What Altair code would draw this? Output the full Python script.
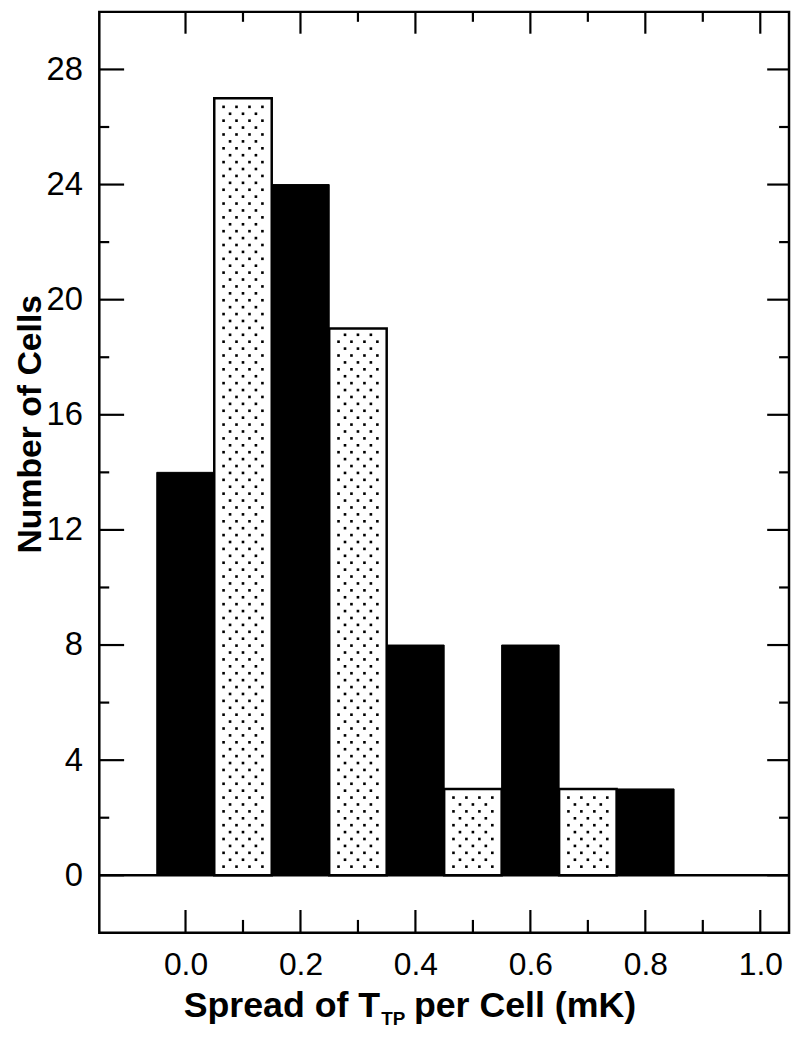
import altair as alt
import pandas as pd

# ---- data ----
centers = [0.0, 0.1, 0.2, 0.3, 0.4, 0.5, 0.6, 0.7, 0.8]
counts = [14, 27, 24, 19, 8, 3, 8, 3, 3]
styles = ["solid", "dotted", "solid", "dotted", "solid", "dotted", "solid", "dotted", "solid"]
bin_width = 0.1

x_major = [0.0, 0.2, 0.4, 0.6, 0.8, 1.0]
x_minor = [0.1, 0.3, 0.5, 0.7, 0.9]
y_major = [0, 4, 8, 12, 16, 20, 24, 28]
y_minor = [2, 6, 10, 14, 18, 22, 26]

W, H = 695, 928
FONT = "Liberation Sans"

bars = pd.DataFrame({
    "start": [c - bin_width / 2 for c in centers],
    "end": [c + bin_width / 2 for c in centers],
    "count": counts,
    "style": styles,
})

# dot texture inside the dotted bars (derived from the bars above)
dot_rows = []
for c, n, s in zip(centers, counts, styles):
    if s != "dotted":
        continue
    k = 0
    yv = 0.3
    while yv < n - 0.15:
        offs = [-0.0338, -0.0113, 0.0113, 0.0338] if k % 2 == 0 else [-0.0225, 0.0, 0.0225]
        for o in offs:
            dot_rows.append({"x": c + o, "y": yv})
        k += 1
        yv = 0.3 + 0.24 * k
dots = pd.DataFrame(dot_rows)

xs = alt.Scale(domain=[-0.15, 1.05], nice=False, zero=False)
ys = alt.Scale(domain=[-2, 30], nice=False, zero=False)

solid = alt.Chart(bars).transform_filter(alt.datum.style == "solid").mark_rect(
    fill="black", stroke="black", strokeWidth=1
).encode(
    x=alt.X("start:Q", scale=xs, axis=alt.Axis(
        values=x_major, format=".1f", ticks=False, tickSize=0, domain=False, grid=False,
        labelFont=FONT, labelFontSize=32, labelColor="black", labelPadding=17,
        labelFlush=False, title=None)),
    x2="end:Q",
    y=alt.Y("count:Q", scale=ys, axis=alt.Axis(
        values=y_major, ticks=False, tickSize=0, domain=False, grid=False,
        labelFont=FONT, labelFontSize=33, labelColor="black", labelPadding=17,
        title="Number of Cells", titleFont=FONT, titleFontSize=34, titleFontWeight="bold",
        titleColor="black", titleAngle=270, titleX=-69, titleY=415,
        titleAlign="center", titleBaseline="middle")),
    y2=alt.datum(0),
)

dotted = alt.Chart(bars).transform_filter(alt.datum.style == "dotted").mark_rect(
    fill="white", stroke="black", strokeWidth=2.5
).encode(
    x=alt.X("start:Q", scale=xs),
    x2="end:Q",
    y=alt.Y("count:Q", scale=ys),
    y2=alt.datum(0),
)

dot_layer = alt.Chart(dots).mark_square(size=7, color="black", opacity=1).encode(
    x=alt.X("x:Q", scale=xs),
    y=alt.Y("y:Q", scale=ys),
)

zero_line = alt.Chart(pd.DataFrame({"z": [0]})).mark_rule(
    color="black", strokeWidth=2.5
).encode(y=alt.Y("z:Q", scale=ys))


def xticks(vals, y0, y1):
    return alt.Chart(pd.DataFrame({"v": vals})).mark_rule(color="black", strokeWidth=2.2).encode(
        x=alt.X("v:Q", scale=xs), y=alt.value(y0), y2=alt.value(y1))


def yticks(vals, x0, x1):
    return alt.Chart(pd.DataFrame({"v": vals})).mark_rule(color="black", strokeWidth=2.2).encode(
        y=alt.Y("v:Q", scale=ys), x=alt.value(x0), x2=alt.value(x1))


ticks = [
    xticks(x_major, H, H - 23), xticks(x_minor, H, H - 13),
    xticks(x_major, 0, 22), xticks(x_minor, 0, 10),
    yticks(y_major, 0, 25), yticks(y_minor, 0, 10),
    yticks(y_major, W, W - 22), yticks(y_minor, W, W - 10),
]

title_main = alt.Chart(pd.DataFrame({"t": ["Spread of T"]})).mark_text(
    font=FONT, fontSize=36, fontWeight="bold", color="black", align="right", baseline="alphabetic"
).encode(text="t:N", x=alt.value(283), y=alt.value(1013))

title_sub = alt.Chart(pd.DataFrame({"t": ["TP"]})).mark_text(
    font=FONT, fontSize=19, fontWeight="bold", color="black", align="left", baseline="alphabetic"
).encode(text="t:N", x=alt.value(284), y=alt.value(1021))

title_rest = alt.Chart(pd.DataFrame({"t": ["per Cell (mK)"]})).mark_text(
    font=FONT, fontSize=36, fontWeight="bold", color="black", align="left", baseline="alphabetic"
).encode(text="t:N", x=alt.value(317), y=alt.value(1013))

chart = alt.layer(
    solid, dotted, dot_layer, zero_line, *ticks, title_main, title_sub, title_rest
).properties(
    width=W, height=H,
    autosize=alt.AutoSizeParams(type="none"),
    padding={"left": 92, "top": 0, "right": 3, "bottom": 94},
    background="white",
).configure_view(
    stroke="black", strokeWidth=2.5
)

chart.save("out.html", embed_options={"renderer": "svg", "actions": False})
